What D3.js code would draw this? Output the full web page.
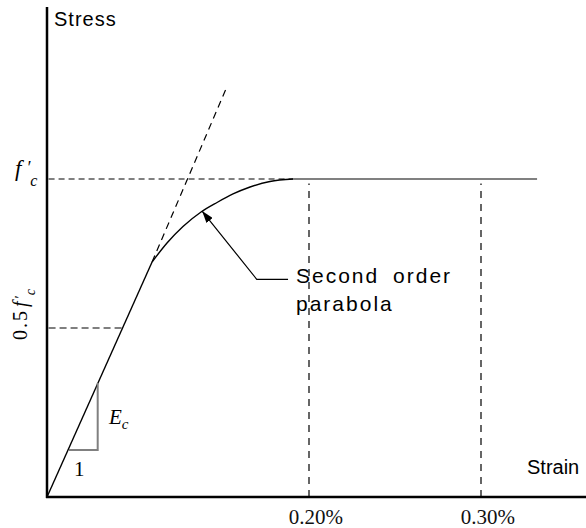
<!DOCTYPE html>
<html>
<head>
<meta charset="utf-8">
<script src="https://cdn.jsdelivr.net/npm/d3@7"></script>
<style>
  body { margin: 0; background: #fff; }
  svg { display: block; }
</style>
</head>
<body>
<div id="chart"></div>
<script>
// chart data (strain in %, stress as fraction of f'c)
const strainTicks = [0.2, 0.3];
const tickLabels = ['0.20%', '0.30%'];
const stressLevels = [0.5, 1];

const elasticStrain = [0, 0.0802];
const elasticStress = [0, 0.7215];

const tangentStrain = [0.0802, 0.1366];
const tangentStress = [0.7215, 1.302];

const parabolaStrain = [0.0802, 0.0916, 0.1038, 0.1176, 0.1298, 0.142, 0.155, 0.1702, 0.1878];
const parabolaStress = [0.7215, 0.7852, 0.8406, 0.8893, 0.9211, 0.9497, 0.9732, 0.9916, 1.0];

const plateauStrain = [0.1878, 0.3326];
const halfLevelStrain = [0.0012, 0.0577];
const peakLevelStrain = [0.0012, 0.1878];

// slope triangle corners
const triangleStrain = [0.0168, 0.0387, 0.0387];
const triangleStress = [0.139, 0.139, 0.337];

// annotation: arrow tip on the parabola, elbow and end of leader
const arrowStrain = [0.1184, 0.1601, 0.184];
const arrowStress = [0.8925, 0.6634, 0.6634];

const width = 586;
const height = 528;

const svg = d3.select('#chart').append('svg')
    .attr('width', width)
    .attr('height', height);

svg.append('rect').attr('width', width).attr('height', height).attr('fill', '#fff');

// schematic, so the scales are piecewise
const x = d3.scaleLinear().domain([0, 0.2, 0.3]).range([47, 309, 481]);
const y = d3.scaleLinear().domain([0, 0.5, 1]).range([497, 328, 179]);

const line = d3.line().x(d => x(d[0])).y(d => y(d[1]));
const smooth = d3.line().x(d => x(d[0])).y(d => y(d[1])).curve(d3.curveMonotoneX);
const zip = (a, b) => a.map((v, i) => [v, b[i]]);

svg.append('defs').append('marker')
    .attr('id', 'arrow')
    .attr('viewBox', '0 0 12 8')
    .attr('refX', 12)
    .attr('refY', 4)
    .attr('markerWidth', 12)
    .attr('markerHeight', 8)
    .attr('markerUnits', 'userSpaceOnUse')
    .attr('orient', 'auto-start-reverse')
    .append('path')
    .attr('d', 'M0,0 L12,4 L0,8 Z')
    .attr('fill', '#000');

// reference levels
svg.append('path')
    .attr('d', line(zip(peakLevelStrain, [1, 1])))
    .attr('fill', 'none').attr('stroke', '#808080').attr('stroke-width', 2)
    .attr('stroke-dasharray', '6,4');

svg.append('path')
    .attr('d', line(zip(halfLevelStrain, [stressLevels[0], stressLevels[0]])))
    .attr('fill', 'none').attr('stroke', '#000').attr('stroke-width', 1.2)
    .attr('stroke-dasharray', '7,4');

svg.selectAll('.vline')
    .data(strainTicks)
    .enter()
    .append('path')
    .attr('class', 'vline')
    .attr('d', d => line([[d, 0], [d, 0.985]]))
    .attr('fill', 'none').attr('stroke', '#000').attr('stroke-width', 1.2)
    .attr('stroke-dasharray', '7,6');

// tangent (initial modulus) dashed
svg.append('path')
    .attr('d', line(zip(tangentStrain, tangentStress)))
    .attr('fill', 'none').attr('stroke', '#000').attr('stroke-width', 1.2)
    .attr('stroke-dasharray', '7,5');

// plateau
svg.append('path')
    .attr('d', line(zip(plateauStrain, [1, 1])))
    .attr('fill', 'none').attr('stroke', '#808080').attr('stroke-width', 2.2);

// elastic part
svg.append('path')
    .attr('d', line(zip(elasticStrain, elasticStress)))
    .attr('fill', 'none').attr('stroke', '#000').attr('stroke-width', 1.4);

// parabola
svg.append('path')
    .attr('d', smooth(zip(parabolaStrain, parabolaStress)))
    .attr('fill', 'none').attr('stroke', '#000').attr('stroke-width', 1.4);

// slope triangle
svg.append('path')
    .attr('d', line(zip(triangleStrain, triangleStress)))
    .attr('fill', 'none').attr('stroke', '#808080').attr('stroke-width', 2);

// annotation leader
svg.append('path')
    .attr('d', line(zip(arrowStrain, arrowStress)))
    .attr('fill', 'none').attr('stroke', '#000').attr('stroke-width', 1.2)
    .attr('marker-start', 'url(#arrow)');

// axes
svg.append('line')
    .attr('x1', x(0)).attr('x2', x(0))
    .attr('y1', 7).attr('y2', y(0) + 1)
    .attr('stroke', '#000').attr('stroke-width', 2.5);
svg.append('line')
    .attr('x1', x(0) - 1).attr('x2', width)
    .attr('y1', y(0)).attr('y2', y(0))
    .attr('stroke', '#000').attr('stroke-width', 2.5);

const xAxis = svg.append('g')
    .attr('transform', `translate(0,${y(0)})`)
    .call(d3.axisBottom(x)
        .tickValues(strainTicks)
        .tickSize(0)
        .tickPadding(12)
        .tickFormat((d, i) => tickLabels[i]));
xAxis.select('.domain').remove();
xAxis.selectAll('text')
    .attr('dx', '0.3em')
    .style('font-family', '"Liberation Serif", serif')
    .style('font-size', '21px')
    .style('fill', '#111');

// text labels
const sans = '"Liberation Sans", Arial, sans-serif';
const serif = '"Liberation Serif", "Times New Roman", serif';

svg.append('text')
    .attr('x', 54).attr('y', 26)
    .style('font-family', sans).style('font-size', '20px')
    .style('letter-spacing', '1px')
    .text('Stress');

svg.append('text')
    .attr('x', 527).attr('y', 474)
    .style('font-family', sans).style('font-size', '20px')
    .text('Strain');

const note = svg.append('text')
    .style('font-family', sans).style('font-size', '21px')
    .style('letter-spacing', '2px')
    .style('word-spacing', '6px');
note.append('tspan').attr('x', 296).attr('y', 283).text('Second order');
note.append('tspan').attr('x', 296).attr('y', 311).text('parabola');

// f'c label
const fc = svg.append('text')
    .attr('x', 15).attr('y', y(1) - 3)
    .style('font-family', serif).style('font-size', '23px').style('font-style', 'italic');
fc.append('tspan').text('f');
fc.append('tspan').attr('dx', 5).attr('dy', -2).style('font-size', '18px').text('\u2032');
fc.append('tspan').attr('dx', 0).attr('dy', 12).style('font-size', '16px').text('c');

// 0.5 f'c label, rotated
const half = svg.append('text')
    .attr('transform', `translate(27,${y(stressLevels[0]) + 12}) rotate(-90)`)
    .style('font-family', serif).style('font-size', '20px')
    .style('letter-spacing', '2px');
half.append('tspan').text('0.5');
half.append('tspan').attr('dx', 2).style('font-style', 'italic').text('f');
half.append('tspan').attr('dx', 1).attr('dy', -2).style('font-size', '15px').text('\u2032');
half.append('tspan').attr('dx', -2).attr('dy', 10).style('font-size', '14px').style('font-style', 'italic').text('c');

// slope triangle labels
const ec = svg.append('text')
    .attr('x', 109).attr('y', 424)
    .style('font-family', serif).style('font-size', '21px').style('font-style', 'italic');
ec.append('tspan').text('E');
ec.append('tspan').attr('dy', 5).style('font-size', '15px').text('c');

svg.append('text')
    .attr('x', 74).attr('y', 476)
    .style('font-family', serif).style('font-size', '21px')
    .text('1');
</script>
</body>
</html>
